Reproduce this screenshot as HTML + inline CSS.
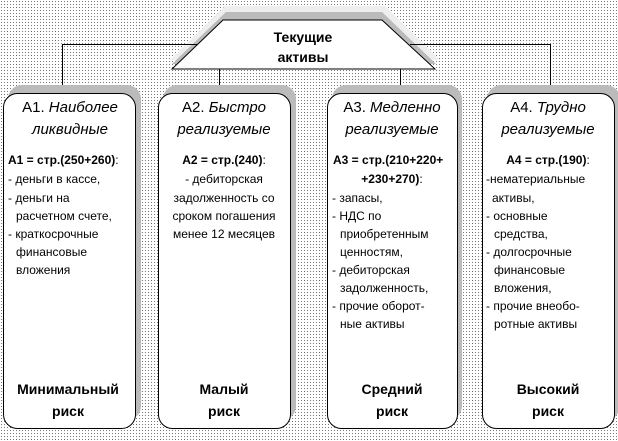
<!DOCTYPE html>
<html><head><meta charset="utf-8"><style>
html,body{margin:0;padding:0;background:#fff}
svg{display:block}
text{font-family:"Liberation Sans",Arial,sans-serif;fill:#000}
.b{font-weight:bold;font-size:14px}
.h{font-size:15px}
.i{font-style:italic}
.t{font-size:12px}
.f{font-size:12px;font-weight:bold}
</style></head><body>
<svg width="618" height="441" viewBox="0 0 618 441" xmlns="http://www.w3.org/2000/svg">
<defs><pattern id="d" width="3" height="3" patternUnits="userSpaceOnUse"><rect x="1" y="1" width="1" height="1" fill="#777"/></pattern></defs>
<rect width="618" height="441" fill="#fff"/>
<rect width="618" height="441" fill="url(#d)"/>
<polygon points="225,6 385,6 440,60 170,60" fill="#eee"/>
<polygon points="226,12 382,12 436,64 172,64" fill="#bbb"/>
<polygon points="223,20 382,20 435,69 172,69" fill="#fff" stroke="#000" stroke-width="1"/>
<text class="b" x="303" y="42" text-anchor="middle">Текущие</text>
<text class="b" x="303" y="62" text-anchor="middle">активы</text>
<polyline points="197,44.5 62.5,44.5 62.5,92" fill="none" stroke="#000"/>
<line x1="219.5" y1="69" x2="219.5" y2="92" stroke="#000"/>
<line x1="400.5" y1="69" x2="400.5" y2="92" stroke="#000"/>
<polyline points="410,44.5 550.5,44.5 550.5,92" fill="none" stroke="#000"/>
<g fill="#bbb">
<rect x="8" y="85" width="133" height="335" rx="14"/>
<rect x="163" y="85" width="133" height="335" rx="14"/>
<rect x="332" y="85" width="130" height="335" rx="14"/>
<rect x="487" y="85" width="133" height="335" rx="14"/>
</g>
<g fill="#fff" stroke="#000">
<rect x="3.5" y="93.5" width="132" height="335" rx="14"/>
<rect x="158.5" y="93.5" width="132" height="335" rx="14"/>
<rect x="327.5" y="93.5" width="130" height="335" rx="14"/>
<rect x="482.5" y="93.5" width="132" height="335" rx="14"/>
</g>
<text class="h" x="70" y="112" text-anchor="middle">А1. <tspan class="i">Наиболее</tspan></text>
<text class="h i" x="70" y="134" text-anchor="middle">ликвидные</text>
<text class="h" x="224" y="112" text-anchor="middle">А2. <tspan class="i">Быстро</tspan></text>
<text class="h i" x="224" y="134" text-anchor="middle">реализуемые</text>
<text class="h" x="392" y="112" text-anchor="middle">А3. <tspan class="i">Медленно</tspan></text>
<text class="h i" x="392" y="134" text-anchor="middle">реализуемые</text>
<text class="h" x="548" y="112" text-anchor="middle">А4. <tspan class="i">Трудно</tspan></text>
<text class="h i" x="548" y="134" text-anchor="middle">реализуемые</text>
<text class="f" x="8" y="164">А1 = стр.(250+260)<tspan style="font-weight:normal">:</tspan></text>
<text x="8" y="183" class="t">- деньги в кассе,</text>
<text x="8" y="202" class="t">- деньги на</text>
<text x="16" y="220" class="t">расчетном счете,</text>
<text x="8" y="238" class="t">- краткосрочные</text>
<text x="16" y="256" class="t">финансовые</text>
<text x="16" y="274" class="t">вложения</text>
<text class="f" x="224" y="164" text-anchor="middle">А2 = стр.(240)<tspan style="font-weight:normal">:</tspan></text>
<text class="t" x="224" y="183" text-anchor="middle">- дебиторская</text>
<text class="t" x="224" y="202" text-anchor="middle">задолженность со</text>
<text class="t" x="224" y="220" text-anchor="middle">сроком погашения</text>
<text class="t" x="224" y="238" text-anchor="middle">менее 12 месяцев</text>
<text class="f" x="333" y="164">А3 = стр.(210+220+</text>
<text class="f" x="392" y="183" text-anchor="middle">+230+270)<tspan style="font-weight:normal">:</tspan></text>
<text class="t" x="332" y="202">- запасы,</text>
<text class="t" x="332" y="220">- НДС по</text>
<text class="t" x="340" y="238">приобретенным</text>
<text class="t" x="340" y="256">ценностям,</text>
<text class="t" x="332" y="274">- дебиторская</text>
<text class="t" x="340" y="292">задолженность,</text>
<text class="t" x="332" y="310">- прочие оборот-</text>
<text class="t" x="340" y="328">ные активы</text>
<text class="f" x="548" y="164" text-anchor="middle">А4 = стр.(190)<tspan style="font-weight:normal">:</tspan></text>
<text class="t" x="486" y="183">-нематериальные</text>
<text class="t" x="492" y="202">активы,</text>
<text class="t" x="486" y="220">- основные</text>
<text class="t" x="494" y="238">средства,</text>
<text class="t" x="486" y="256">- долгосрочные</text>
<text class="t" x="494" y="274">финансовые</text>
<text class="t" x="494" y="292">вложения,</text>
<text class="t" x="486" y="310">- прочие внеобо-</text>
<text class="t" x="494" y="328">ротные активы</text>
<text class="b" x="68" y="394" text-anchor="middle">Минимальный</text>
<text class="b" x="68" y="416" text-anchor="middle">риск</text>
<text class="b" x="224" y="394" text-anchor="middle">Малый</text>
<text class="b" x="224" y="416" text-anchor="middle">риск</text>
<text class="b" x="392" y="394" text-anchor="middle">Средний</text>
<text class="b" x="392" y="416" text-anchor="middle">риск</text>
<text class="b" x="548" y="394" text-anchor="middle">Высокий</text>
<text class="b" x="548" y="416" text-anchor="middle">риск</text>
</svg>
</body></html>
